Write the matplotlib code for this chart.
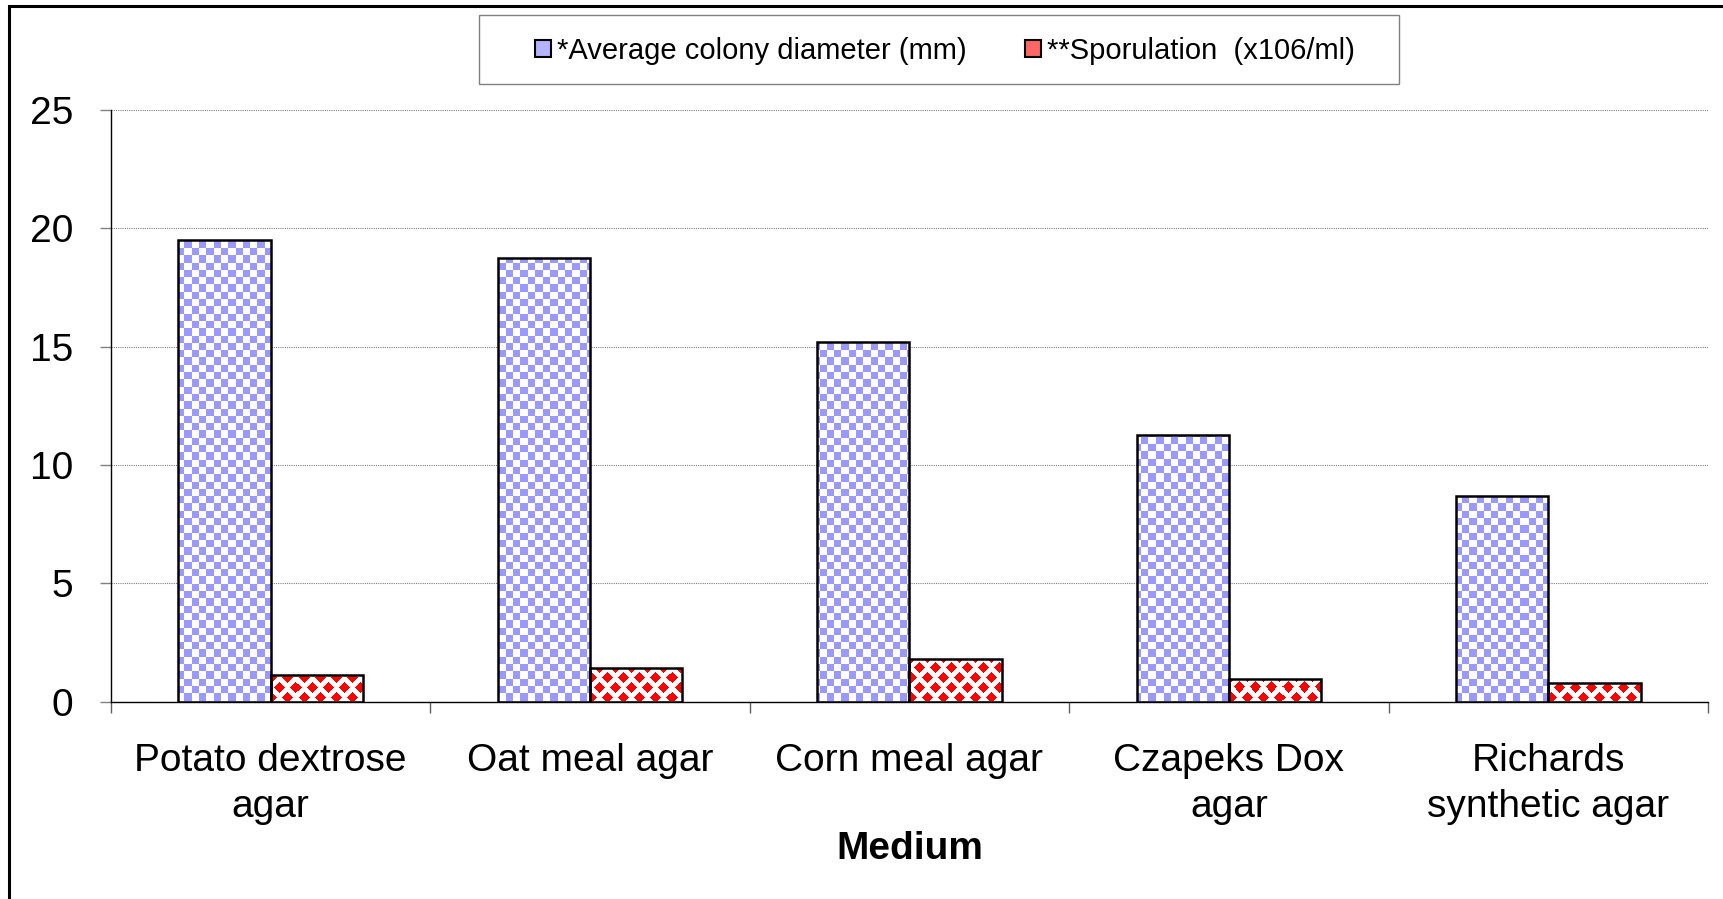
import numpy as np
import matplotlib
matplotlib.use("Agg")
import matplotlib.pyplot as plt
from matplotlib.patches import Patch, Rectangle

plt.rcParams['font.family'] = ['Liberation Sans', 'DejaVu Sans']

# data
media = ["Potato dextrose\nagar", "Oat meal agar", "Corn meal agar",
         "Czapeks Dox\nagar", "Richards\nsynthetic agar"]
colony_diameter = [19.5, 18.75, 15.2, 11.25, 8.7]
sporulation = [1.12, 1.42, 1.8, 0.93, 0.8]
series_names = ["*Average colony diameter (mm)", "**Sporulation  (x106/ml)"]
y_ticks = [0, 5, 10, 15, 20, 25]


def checker_fill(h, w, cell=7.3):
    yy, xx = np.mgrid[0:h, 0:w]
    img = np.ones((h, w, 3))
    mask = ((xx // cell + yy // cell) % 2 == 0)
    img[mask] = (0.6, 0.6, 1.0)
    return img


def diamond_fill(h, w, p=16.0, q=10.0, rx=5.8, ry=5.2):
    yy, xx = np.mgrid[0:h, 0:w]
    mask = np.zeros((h, w), bool)
    for ox, oy in ((0.0, 3.0), (p / 2, q + 3.0)):
        dx = (xx - ox) % p
        dx = np.minimum(dx, p - dx)
        dy = (yy - oy) % (2 * q)
        dy = np.minimum(dy, 2 * q - dy)
        mask |= dx / rx + dy / ry < 1
    img = np.ones((h, w, 3))
    img[mask] = (1.0, 0.0, 0.0)
    return img


W_PX, H_PX = 1724, 899
fig = plt.figure(figsize=(W_PX / 100, H_PX / 100), dpi=100)
ax = fig.add_axes([111 / W_PX, 1 - 701.5 / H_PX, 1597 / W_PX, 591.5 / H_PX])

x = np.arange(len(media))
bw = 0.289
xlim = (-0.5, len(media) - 0.5)
ylim = (0, 25)

blue_bars = ax.bar(x - bw / 2, colony_diameter, bw, facecolor='none',
                   edgecolor='black', linewidth=1.8, zorder=3)
red_bars = ax.bar(x + bw / 2, sporulation, bw, facecolor='none',
                  edgecolor='black', linewidth=1.8, zorder=3)

ah, aw = 592, 1597
blue_img = checker_fill(ah, aw)
red_img = diamond_fill(ah, aw)
for bars, img in ((blue_bars, blue_img), (red_bars, red_img)):
    for b in bars:
        im = ax.imshow(img, extent=(xlim[0], xlim[1], ylim[0], ylim[1]),
                       origin='lower', aspect='auto', interpolation='nearest',
                       zorder=2)
        im.set_clip_path(b)

ax.set_xlim(*xlim)
ax.set_ylim(*ylim)

# axes styling
for s in ('top', 'right'):
    ax.spines[s].set_visible(False)
ax.spines['left'].set_linewidth(1.0)
ax.spines['bottom'].set_linewidth(1.0)

ax.set_yticks(y_ticks)
ax.tick_params(axis='y', length=8, width=1, color='#808080', pad=19,
               labelsize=28)
ax.yaxis.grid(True, linestyle=(0, (1, 1)), color='#808080', linewidth=0.8)
ax.set_axisbelow(True)

ax.set_xticks(np.arange(len(media) + 1) - 0.5)
ax.set_xticklabels([])
ax.tick_params(axis='x', which='major', length=8, width=1, color='#606060')
ax.set_xticks(x, minor=True)
ax.set_xticklabels(media, minor=True, fontsize=28, linespacing=1.35)
ax.tick_params(axis='x', which='minor', length=0, pad=30)
ax.set_xlabel("Medium", fontsize=28, fontweight='bold', labelpad=4)

# legend box and entries
fig.add_artist(Rectangle((479 / W_PX, 1 - 84 / H_PX), 920 / W_PX, 69 / H_PX,
                         transform=fig.transFigure, facecolor='white',
                         edgecolor='#808080', linewidth=1.0))
handles = [Patch(facecolor='#b3b3ff', edgecolor='black', linewidth=1.5),
           Patch(facecolor='#ff6666', edgecolor='black', linewidth=1.5)]
fig.legend(handles, series_names, loc='center', ncol=2,
           bbox_to_anchor=(945 / W_PX, 1 - 51 / H_PX), frameon=False,
           fontsize=21, handlelength=0.55, handleheight=0.55,
           handletextpad=0.2, columnspacing=2.0)

# outer chart frame
fig.add_artist(Rectangle((9 / W_PX, -0.05), 1.1, 1.05 - 6 / H_PX,
                         transform=fig.transFigure, facecolor='none',
                         edgecolor='black', linewidth=2.2))

fig.savefig("out.png", dpi=100)
